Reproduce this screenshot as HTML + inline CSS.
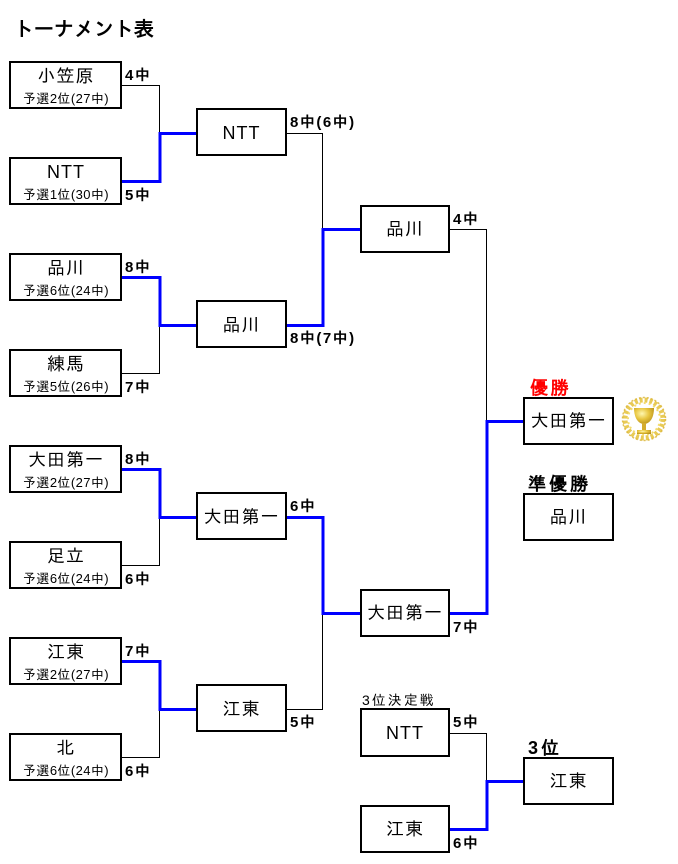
<!DOCTYPE html>
<html><head><meta charset="utf-8">
<style>
html,body{margin:0;padding:0;background:#fff;}
svg{display:block;}
text{font-family:"Liberation Sans","IPAGothic","Noto Sans CJK JP",sans-serif;fill:#000;}
.nm{font-size:18px;text-anchor:middle;letter-spacing:1px;}
.sub{font-size:13px;text-anchor:middle;letter-spacing:0.4px;}
.sc{font-size:15px;font-weight:bold;letter-spacing:1.5px;}
.bx{fill:#fff;stroke:#000;stroke-width:2;}
.bl{fill:none;stroke:#000;stroke-width:1;}
.bu{fill:none;stroke:#0000ff;stroke-width:3;}
</style></head><body>
<svg width="678" height="864" viewBox="0 0 678 864" xmlns="http://www.w3.org/2000/svg">
<defs>
<radialGradient id="gd" cx="40%" cy="35%" r="70%">
<stop offset="0" stop-color="#fff7b0"/><stop offset="0.5" stop-color="#e8c640"/><stop offset="1" stop-color="#b8901a"/>
</radialGradient>
</defs>
<rect width="678" height="864" fill="#fff"/>
<text x="14" y="36" style="font-size:20px;font-weight:bold">トーナメント表</text>

<!-- connectors black -->
<path class="bl" d="M122,85.5 H159.5 V133"/>
<path class="bl" d="M122,373.5 H159.5 V325"/>
<path class="bl" d="M122,565.5 H159.5 V517"/>
<path class="bl" d="M122,757.5 H159.5 V709"/>
<path class="bl" d="M287,133.5 H322.5 V229"/>
<path class="bl" d="M287,709.5 H322.5 V613"/>
<path class="bl" d="M450,229.5 H486.5 V421"/>
<path class="bl" d="M450,733.5 H486.5 V781"/>

<!-- connectors blue -->
<path class="bu" d="M122,181.5 H160 V133.5 H197"/>
<path class="bu" d="M122,277.5 H160 V325.5 H197"/>
<path class="bu" d="M122,469.5 H160 V517.5 H197"/>
<path class="bu" d="M122,661.5 H160 V709.5 H197"/>
<path class="bu" d="M287,325.5 H323 V229.5 H361"/>
<path class="bu" d="M287,517.5 H323 V613.5 H361"/>
<path class="bu" d="M450,613.5 H487 V421.5 H524"/>
<path class="bu" d="M450,829.5 H487 V781.5 H524"/>

<!-- column 1 -->
<rect class="bx" x="10" y="62" width="111" height="46"/>
<text class="nm" x="66" y="82">小笠原</text><text class="sub" x="66" y="103">予選2位(27中)</text>
<rect class="bx" x="10" y="158" width="111" height="46"/>
<text class="nm" x="66" y="178">NTT</text><text class="sub" x="66" y="199">予選1位(30中)</text>
<rect class="bx" x="10" y="254" width="111" height="46"/>
<text class="nm" x="66" y="274">品川</text><text class="sub" x="66" y="295">予選6位(24中)</text>
<rect class="bx" x="10" y="350" width="111" height="46"/>
<text class="nm" x="66" y="370">練馬</text><text class="sub" x="66" y="391">予選5位(26中)</text>
<rect class="bx" x="10" y="446" width="111" height="46"/>
<text class="nm" x="66" y="466">大田第一</text><text class="sub" x="66" y="487">予選2位(27中)</text>
<rect class="bx" x="10" y="542" width="111" height="46"/>
<text class="nm" x="66" y="562">足立</text><text class="sub" x="66" y="583">予選6位(24中)</text>
<rect class="bx" x="10" y="638" width="111" height="46"/>
<text class="nm" x="66" y="658">江東</text><text class="sub" x="66" y="679">予選2位(27中)</text>
<rect class="bx" x="10" y="734" width="111" height="46"/>
<text class="nm" x="66" y="754">北</text><text class="sub" x="66" y="775">予選6位(24中)</text>

<text class="sc" x="125" y="80">4中</text>
<text class="sc" x="125" y="200">5中</text>
<text class="sc" x="125" y="272">8中</text>
<text class="sc" x="125" y="392">7中</text>
<text class="sc" x="125" y="464">8中</text>
<text class="sc" x="125" y="584">6中</text>
<text class="sc" x="125" y="656">7中</text>
<text class="sc" x="125" y="776">6中</text>

<!-- column 2 -->
<rect class="bx" x="197" y="109" width="89" height="46"/>
<text class="nm" x="241.5" y="139">NTT</text>
<rect class="bx" x="197" y="301" width="89" height="46"/>
<text class="nm" x="241.5" y="331">品川</text>
<rect class="bx" x="197" y="493" width="89" height="46"/>
<text class="nm" x="241.5" y="523">大田第一</text>
<rect class="bx" x="197" y="685" width="89" height="46"/>
<text class="nm" x="241.5" y="715">江東</text>

<text class="sc" x="290" y="127">8中(6中)</text>
<text class="sc" x="290" y="343">8中(7中)</text>
<text class="sc" x="290" y="511">6中</text>
<text class="sc" x="290" y="727">5中</text>

<!-- column 3 -->
<rect class="bx" x="361" y="206" width="88" height="46"/>
<text class="nm" x="405" y="235">品川</text>
<rect class="bx" x="361" y="590" width="88" height="46"/>
<text class="nm" x="405" y="619">大田第一</text>
<text class="sc" x="453" y="224">4中</text>
<text class="sc" x="453" y="632">7中</text>

<!-- final -->
<text x="530" y="394" style="font-size:18px;font-weight:bold;fill:#ff0000;letter-spacing:2.5px">優勝</text>
<rect class="bx" x="524" y="398" width="89" height="46"/>
<text class="nm" x="568.5" y="427">大田第一</text>
<text x="528" y="490" style="font-size:18px;font-weight:bold;letter-spacing:3px">準優勝</text>
<rect class="bx" x="524" y="494" width="89" height="46"/>
<text class="nm" x="568.5" y="523">品川</text>

<!-- trophy -->
<g transform="translate(644,419)">
<circle r="19" fill="none" stroke="#e6c443" stroke-width="5" stroke-dasharray="3 2" opacity="0.9"/>
<circle r="16" fill="none" stroke="#f3dc70" stroke-width="2" stroke-dasharray="2 3"/>
<circle r="21.5" fill="none" stroke="#d9b230" stroke-width="1.5" stroke-dasharray="2 2" opacity="0.8"/>
<path d="M-10,-11 H10 C10,0 5,5 0,5 C-5,5 -10,0 -10,-11 Z" fill="url(#gd)"/>
<rect x="-2" y="4" width="4" height="7" fill="#d4ac2e"/>
<path d="M-7,11 H7 V15 H-7 Z" fill="url(#gd)"/>
</g>

<!-- 3rd place -->
<text x="362" y="705" style="font-size:14px;letter-spacing:2px">3位決定戦</text>
<rect class="bx" x="361" y="709" width="88" height="47"/>
<text class="nm" x="405" y="739">NTT</text>
<rect class="bx" x="361" y="806" width="88" height="46"/>
<text class="nm" x="405" y="835">江東</text>
<text class="sc" x="453" y="727">5中</text>
<text class="sc" x="453" y="848">6中</text>
<text x="528" y="754" style="font-size:18px;font-weight:bold;letter-spacing:3px">3位</text>
<rect class="bx" x="524" y="758" width="89" height="46"/>
<text class="nm" x="568.5" y="787">江東</text>
</svg>
</body></html>
